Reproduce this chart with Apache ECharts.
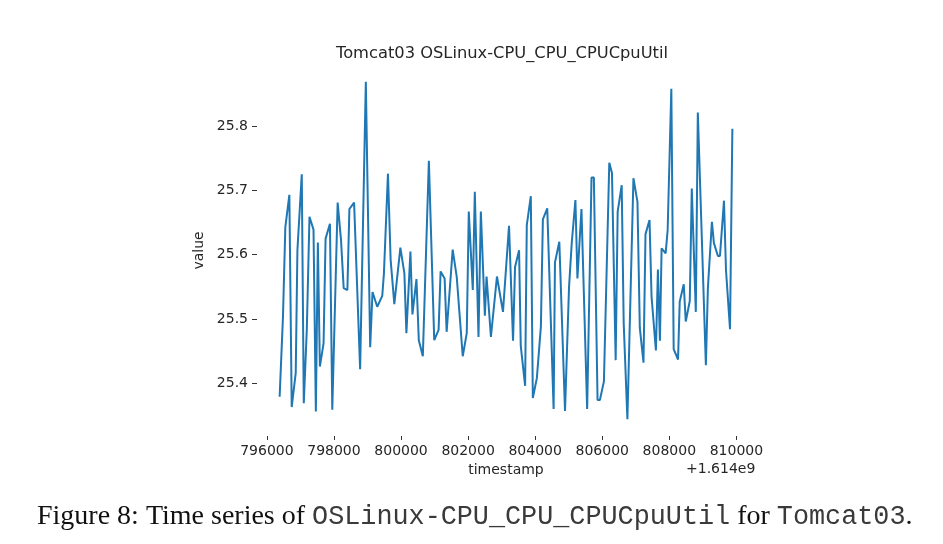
<!DOCTYPE html>
<html>
<head>
<meta charset="utf-8">
<script src="https://cdn.jsdelivr.net/npm/echarts@6/dist/echarts.min.js"></script>
<style>
  html, body { margin: 0; padding: 0; background: #fff; }
  #main { width: 943px; height: 544px; }
</style>
</head>
<body>
<div id="main"></div>
<script>
// timestamps shown as offset from 1.614e9
var timestamps = [
  796380, 796480, 796550, 796670, 796740, 796860, 796910, 797040, 797100, 797190,
  797270, 797390, 797460, 797520, 797580, 797690, 797750, 797880, 797950, 798110,
  798210, 798290, 798400, 798460, 798600, 798780, 798950, 799080, 799150, 799290,
  799440, 799490, 799610, 799690, 799800, 799980, 800100, 800160, 800280, 800340,
  800460, 800530, 800650, 800830, 800990, 801120, 801180, 801300, 801360, 801540,
  801660, 801840, 801960, 802020, 802140, 802200, 802310, 802380, 802500, 802550,
  802680, 802860, 803040, 803220, 803340, 803400, 803520, 803570, 803700, 803750,
  803870, 803930, 804050, 804170, 804230, 804360, 804550, 804590, 804720, 804890,
  805010, 805090, 805200, 805260, 805380, 805550, 805680, 805750, 805860, 805930,
  806050, 806210, 806290, 806400, 806460, 806580, 806640, 806750, 806930, 807050,
  807120, 807230, 807290, 807410, 807470, 807600, 807660, 807720, 807770, 807890,
  807950, 808060, 808130, 808260, 808310, 808430, 808490, 808610, 808670, 808790,
  808850, 809090, 809150, 809270, 809330, 809450, 809510, 809630, 809690, 809810,
  809880
];
var values = [
  25.379, 25.504, 25.643, 25.693, 25.363, 25.416, 25.607, 25.725, 25.369, 25.483,
  25.659, 25.639, 25.356, 25.619, 25.426, 25.462, 25.625, 25.648, 25.359, 25.681,
  25.623, 25.548, 25.545, 25.671, 25.681, 25.422, 25.869, 25.456, 25.542, 25.519,
  25.536, 25.571, 25.726, 25.592, 25.523, 25.611, 25.571, 25.478, 25.605, 25.507,
  25.562, 25.467, 25.442, 25.746, 25.467, 25.483, 25.574, 25.563, 25.480, 25.608,
  25.566, 25.442, 25.478, 25.667, 25.545, 25.698, 25.472, 25.667, 25.505, 25.566,
  25.472, 25.566, 25.511, 25.645, 25.466, 25.581, 25.607, 25.458, 25.396, 25.646,
  25.691, 25.377, 25.408, 25.488, 25.655, 25.672, 25.360, 25.588, 25.620, 25.357,
  25.550, 25.618, 25.685, 25.563, 25.671, 25.360, 25.720, 25.720, 25.374, 25.374,
  25.403, 25.743, 25.727, 25.436, 25.667, 25.708, 25.493, 25.344, 25.719, 25.682,
  25.486, 25.432, 25.632, 25.654, 25.535, 25.451, 25.577, 25.466, 25.610, 25.602,
  25.638, 25.858, 25.453, 25.437, 25.527, 25.554, 25.496, 25.528, 25.703, 25.511,
  25.821, 25.428, 25.548, 25.651, 25.618, 25.598, 25.598, 25.684, 25.576, 25.484,
  25.796
];
var xTicks = [796000, 798000, 800000, 802000, 804000, 806000, 808000, 810000];
var yTicks = [25.4, 25.5, 25.6, 25.7, 25.8];

var chartTitle = 'Tomcat03 OSLinux-CPU_CPU_CPUCpuUtil';
var offsetText = '+1.614e9';

var points = timestamps.map(function (t, i) { return [t, values[i]]; });

var tickColor = '#333';
var labelFont = 'DejaVu Sans';

var myChart = echarts.init(document.getElementById('main'), null, { renderer: 'canvas' });
myChart.setOption({
  backgroundColor: '#fff',
  animation: false,
  title: {
    text: chartTitle,
    left: 497,
    top: 41,
    textAlign: 'center',
    textStyle: { fontFamily: labelFont, fontSize: 16.3, fontWeight: 'normal', color: '#262626' }
  },
  grid: { left: 257, right: 188, top: 65, bottom: 108, containLabel: false },
  xAxis: {
    type: 'value',
    min: 795705,
    max: 810555,
    name: 'timestamp',
    nameLocation: 'middle',
    nameGap: 27,
    nameTextStyle: { fontFamily: labelFont, fontSize: 14, color: '#262626' },
    splitLine: { show: false },
    axisLine: { show: false },
    axisTick: { show: true, length: 4, customValues: xTicks, lineStyle: { color: tickColor } },
    axisLabel: {
      customValues: xTicks,
      margin: 8,
      fontFamily: labelFont,
      fontSize: 14,
      color: '#262626',
      formatter: function (v) { return String(v); }
    }
  },
  yAxis: {
    type: 'value',
    min: 25.318,
    max: 25.895,
    name: 'value',
    nameLocation: 'middle',
    nameGap: 47,
    nameTextStyle: { fontFamily: labelFont, fontSize: 14, color: '#262626' },
    splitLine: { show: false },
    axisLine: { show: false },
    axisTick: { show: true, length: 5, customValues: yTicks, lineStyle: { color: tickColor } },
    axisLabel: {
      customValues: yTicks,
      margin: 9,
      fontFamily: labelFont,
      fontSize: 14,
      color: '#262626',
      formatter: function (v) { return v.toFixed(1); }
    }
  },
  graphic: [
    {
      type: 'text',
      left: 686,
      top: 462,
      style: { text: offsetText, font: '14px "DejaVu Sans"', fill: '#262626' }
    },
    {
      type: 'text',
      left: 37,
      top: 503,
      style: {
        text: '{s|Figure 8: Time series of }{m|OSLinux-CPU_CPU_CPUCpuUtil}{s| for }{m|Tomcat03}{s|.}',
        rich: {
          s: { fontFamily: 'Liberation Serif', fontSize: 28, fill: '#111' },
          m: { fontFamily: 'Liberation Mono', fontSize: 26.8, fill: '#3a3a3a' }
        }
      }
    }
  ],
  series: [{
    type: 'line',
    data: points,
    showSymbol: false,
    symbol: 'none',
    clip: false,
    lineStyle: { color: '#1f77b4', width: 2 }
  }]
});
</script>
</body>
</html>
